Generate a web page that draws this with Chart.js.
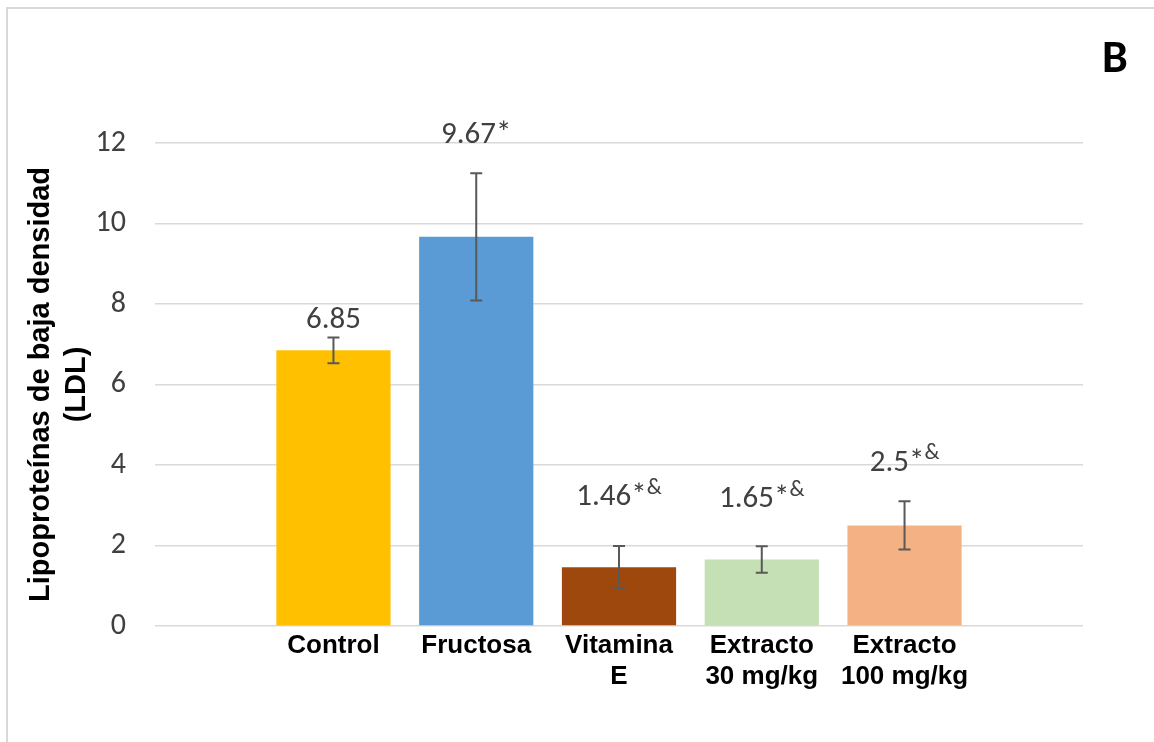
<!DOCTYPE html>
<html>
<head>
<meta charset="utf-8">
<script src="https://cdn.jsdelivr.net/npm/chart.js@4"></script>
<style>
  html, body { margin: 0; padding: 0; background: #fff; overflow: hidden; }
  #frame { position: absolute; left: 6px; top: 7px; width: 1300px; height: 900px; border: 2px solid #d9d9d9; }
  #wrap { position: absolute; left: 0; top: 0; width: 1154px; height: 742px; }
</style>
</head>
<body>
<div id="frame"></div>
<div id="wrap"><canvas id="ldlChart"></canvas></div>
<script>
// Values
const groups = [['Control'], ['Fructosa'], ['Vitamina', 'E'], ['Extracto', '30 mg/kg'], ['Extracto', '100 mg/kg']];
const ldl = [6.85, 9.67, 1.46, 1.65, 2.5];
const ldlError = [0.32, 1.58, 0.53, 0.33, 0.6];
const valueText = ['6.85', '9.67*', '1.46*', '1.65*', '2.5*'];
const valueSup = ['', '', '&', '&', '&'];
const labelAt = [7.6, 12.2, 3.2, 3.15, 4.05];
const barColors = ['#FFC000', '#5B9BD5', '#9E480E', '#C5E0B4', '#F4B183'];

const numFont = 'Carlito, Lato, "Noto Sans", sans-serif';
const boldFont = '"Liberation Sans", Arial, sans-serif';

const errorBars = {
    id: 'errorBars',
    afterDatasetsDraw(chart) {
        const { ctx, scales: { x, y } } = chart;
        ctx.save();
        ctx.strokeStyle = '#595959';
        ctx.lineWidth = 2;
        ldl.forEach((v, i) => {
            const px = x.getPixelForValue(i);
            const top = y.getPixelForValue(v + ldlError[i]);
            const bot = y.getPixelForValue(v - ldlError[i]);
            ctx.beginPath();
            ctx.moveTo(px, top); ctx.lineTo(px, bot);
            ctx.moveTo(px - 6, top); ctx.lineTo(px + 6, top);
            ctx.moveTo(px - 6, bot); ctx.lineTo(px + 6, bot);
            ctx.stroke();
        });
        // value labels
        ctx.fillStyle = '#404040';
        ctx.textBaseline = 'middle';
        valueText.forEach((t, i) => {
            const px = x.getPixelForValue(i);
            const py = y.getPixelForValue(labelAt[i]);
            ctx.font = '31px ' + numFont;
            const w1 = ctx.measureText(t).width;
            ctx.font = '22px ' + numFont;
            const w2 = valueSup[i] ? ctx.measureText(valueSup[i]).width : 0;
            const start = px - (w1 + w2) / 2;
            ctx.textAlign = 'left';
            ctx.font = '31px ' + numFont;
            ctx.fillText(t, start, py);
            if (valueSup[i]) {
                ctx.font = '22px ' + numFont;
                ctx.fillText(valueSup[i], start + w1, py - 9);
            }
        });
        // panel letter
        ctx.fillStyle = '#000';
        ctx.font = 'bold 46px ' + numFont;
        ctx.textAlign = 'center';
        ctx.fillText('B', chart.chartArea.right + 32, 60);
        ctx.restore();
    }
};

const ctx = document.getElementById('ldlChart').getContext('2d');
new Chart(ctx, {
    type: 'bar',
    data: {
        datasets: [{
            data: ldl.map((v, i) => ({ x: i, y: v })),
            backgroundColor: barColors,
            borderWidth: 0,
            barPercentage: 0.8,
            categoryPercentage: 1.0
        }]
    },
    options: {
        responsive: true,
        maintainAspectRatio: false,
        animation: false,
        layout: { padding: { left: 0, top: 143, right: 71, bottom: 0 } },
        plugins: {
            legend: { display: false },
            tooltip: { enabled: false }
        },
        scales: {
            x: {
                type: 'linear',
                min: -1.25,
                max: 5.25,
                offset: false,
                grid: { display: false, offset: false, drawTicks: false },
                border: { display: false },
                afterBuildTicks: (scale) => { scale.ticks = groups.map((_, i) => ({ value: i })); },
                afterFit: (scale) => { scale.height = 116; },
                ticks: {
                    autoSkip: false,
                    maxRotation: 0,
                    padding: 4,
                    color: '#000',
                    font: { family: boldFont, size: 26, weight: 'bold', lineHeight: 1.2 },
                    callback: (value) => groups[value] || ''
                }
            },
            y: {
                min: 0,
                max: 12,
                afterFit: (scale) => { scale.width = 155; },
                grid: { color: '#d9d9d9', lineWidth: 1.5, drawTicks: false },
                border: { display: false },
                ticks: {
                    stepSize: 2,
                    padding: 29,
                    color: '#404040',
                    font: { family: numFont, size: 30 }
                },
                title: {
                    display: true,
                    text: ['Lipoproteínas de baja densidad', '(LDL)'],
                    color: '#000',
                    padding: { top: 23, bottom: 0 },
                    font: { family: boldFont, size: 29, weight: 'bold', lineHeight: 1.25 }
                }
            }
        }
    },
    plugins: [errorBars]
});
</script>
</body>
</html>
